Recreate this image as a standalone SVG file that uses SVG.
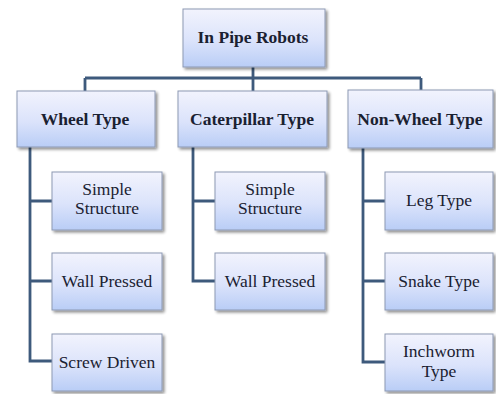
<svg xmlns="http://www.w3.org/2000/svg" width="496" height="394" viewBox="0 0 496 394">
  <defs>
    <linearGradient id="boxFill" x1="0" y1="0" x2="0" y2="1">
      <stop offset="0" stop-color="#f2f3fd"/>
      <stop offset="0.55" stop-color="#dbe3fb"/>
      <stop offset="1" stop-color="#b9cdf6"/>
    </linearGradient>
    <filter id="shadow" x="-10%" y="-10%" width="125%" height="130%">
      <feGaussianBlur in="SourceAlpha" stdDeviation="1.5"/>
      <feOffset dx="1.5" dy="2" result="b"/>
      <feComponentTransfer><feFuncA type="linear" slope="0.45"/></feComponentTransfer>
      <feMerge><feMergeNode/><feMergeNode in="SourceGraphic"/></feMerge>
    </filter>
  </defs>
  <style>
    .box { fill: url(#boxFill); stroke: #8d99b3; stroke-width: 1; filter: url(#shadow); }
    .wire { fill: none; stroke: #3e5a7c; stroke-width: 2.8; }
    text { fill: #1a2131; text-anchor: middle; }
    .head { font-weight: bold; font-size: 17.5px; }
    .leaf { font-size: 17.5px; }
  </style>

  <g id="connectors">
    <path class="wire" d="M253 67 V78 M85 78 H421 M85 78 V91 M253 78 V91 M421 78 V90"/>
    <path class="wire" d="M30 147 V361 H52 M30 201 H52 M30 281 H52"/>
    <path class="wire" d="M193 147 V281 H215 M193 201 H215"/>
    <path class="wire" d="M363 148 V362 H385 M363 201 H385 M363 281 H385"/>
  </g>

  <g id="root">
    <rect class="box" x="183" y="9" width="142" height="58"/>
    <text class="head" x="253" y="43" font-family="Liberation Serif, serif">In Pipe Robots</text>
  </g>

  <g id="wheel-type">
    <rect class="box" x="17" y="91" width="138" height="56"/>
    <text class="head" x="85" y="125" font-family="Liberation Serif, serif">Wheel Type</text>
  </g>
  <g id="caterpillar-type">
    <rect class="box" x="178" y="91" width="149" height="56"/>
    <text class="head" x="252" y="125" font-family="Liberation Serif, serif">Caterpillar Type</text>
  </g>
  <g id="non-wheel-type">
    <rect class="box" x="348" y="90" width="145" height="58"/>
    <text class="head" x="420" y="125" font-family="Liberation Serif, serif">Non-Wheel Type</text>
  </g>

  <g id="wheel-simple-structure">
    <rect class="box" x="52" y="172" width="110" height="58"/>
    <text class="leaf" x="107" y="195" font-family="Liberation Serif, serif">Simple</text>
    <text class="leaf" x="107" y="214" font-family="Liberation Serif, serif">Structure</text>
  </g>
  <g id="wheel-wall-pressed">
    <rect class="box" x="52" y="253" width="110" height="57"/>
    <text class="leaf" x="107" y="287" font-family="Liberation Serif, serif">Wall Pressed</text>
  </g>
  <g id="wheel-screw-driven">
    <rect class="box" x="52" y="334" width="110" height="57"/>
    <text class="leaf" x="107" y="368" font-family="Liberation Serif, serif">Screw Driven</text>
  </g>

  <g id="caterpillar-simple-structure">
    <rect class="box" x="215" y="172" width="110" height="58"/>
    <text class="leaf" x="270" y="195" font-family="Liberation Serif, serif">Simple</text>
    <text class="leaf" x="270" y="214" font-family="Liberation Serif, serif">Structure</text>
  </g>
  <g id="caterpillar-wall-pressed">
    <rect class="box" x="215" y="253" width="110" height="57"/>
    <text class="leaf" x="270" y="287" font-family="Liberation Serif, serif">Wall Pressed</text>
  </g>

  <g id="leg-type">
    <rect class="box" x="385" y="172" width="108" height="58"/>
    <text class="leaf" x="439" y="206" font-family="Liberation Serif, serif">Leg Type</text>
  </g>
  <g id="snake-type">
    <rect class="box" x="385" y="253" width="108" height="57"/>
    <text class="leaf" x="439" y="287" font-family="Liberation Serif, serif">Snake Type</text>
  </g>
  <g id="inchworm-type">
    <rect class="box" x="385" y="334" width="108" height="57"/>
    <text class="leaf" x="439" y="357" font-family="Liberation Serif, serif">Inchworm</text>
    <text class="leaf" x="439" y="377" font-family="Liberation Serif, serif">Type</text>
  </g>
</svg>
